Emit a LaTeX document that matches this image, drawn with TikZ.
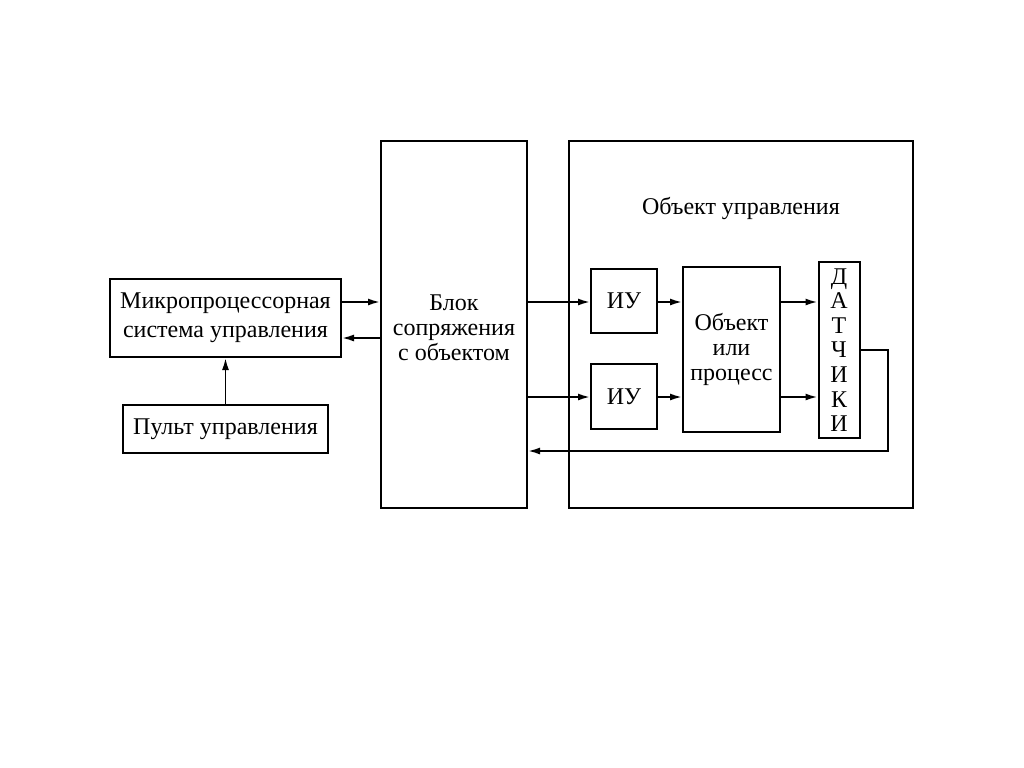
\documentclass[tikz,border=0pt]{standalone}
\usepackage{fontspec}
\setmainfont{Liberation Serif}
\usetikzlibrary{arrows.meta}
\begin{document}
\begin{tikzpicture}[x=0.5pt, y=-0.5pt,
    box/.style={draw, line width=1pt, rectangle, align=center, inner sep=0pt,
                font=\fontsize{12}{12.5}\selectfont},
    arr/.style={line width=0.9pt, -{Latex[length=6pt,width=3.5pt]}}]
    \fill[white] (0,0) rectangle (1024,767);

    % Nodes
    \node[box, minimum width=115.5pt, minimum height=39pt,
          font=\fontsize{12}{14.5}\selectfont] (mps) at (225.5,318)
        {Микропроцессорная\\система управления};
    \node[box, minimum width=102.5pt, minimum height=24pt] (pult) at (225.5,429)
        {Пульт управления};
    \node[box, minimum width=73pt, minimum height=183.5pt] (blok) at (454,324.5) {};
    \node[font=\fontsize{12}{12.5}\selectfont, align=center] (blokt) at (454,328)
        {Блок\\сопряжения\\с объектом};
    \node[box, minimum width=172pt, minimum height=183.5pt] (obu) at (740.5,324.5) {};
    \node[font=\fontsize{12}{12.5}\selectfont] (obut) at (741,208) {Объект управления};
    \node[box, minimum width=33pt, minimum height=32pt] (iu1) at (624,301) {ИУ};
    \node[box, minimum width=33pt, minimum height=32.5pt] (iu2) at (624,396.5) {ИУ};
    \node[box, minimum width=48.5pt, minimum height=82.5pt] (obj) at (731.5,349.5)
        {Объект\\или\\процесс};
    \node[box, minimum width=20.5pt, minimum height=88pt,
          font=\fontsize{12}{12.3}\selectfont] (dat) at (839,350)
        {Д\\А\\Т\\Ч\\И\\К\\И};
    \coordinate (fb) at (888,451);

    % Connections
    \draw[arr] (mps.east |- 0,302) -- (blok.west |- 0,302);
    \draw[arr] (blok.west |- 0,338) -- (mps.east |- 0,338);
    \draw[arr] (pult) -- (mps);
    \draw[arr] (blok.east |- 0,302) -- (iu1.west |- 0,302);
    \draw[arr] (blok.east |- 0,397) -- (iu2.west |- 0,397);
    \draw[arr] (iu1.east |- 0,302) -- (obj.west |- 0,302);
    \draw[arr] (iu2.east |- 0,397) -- (obj.west |- 0,397);
    \draw[arr] (obj.east |- 0,302) -- (dat.west |- 0,302);
    \draw[arr] (obj.east |- 0,397) -- (dat.west |- 0,397);
    \draw[arr] (dat.east) -| (fb) -- (blok.east |- fb);
\end{tikzpicture}
\end{document}
